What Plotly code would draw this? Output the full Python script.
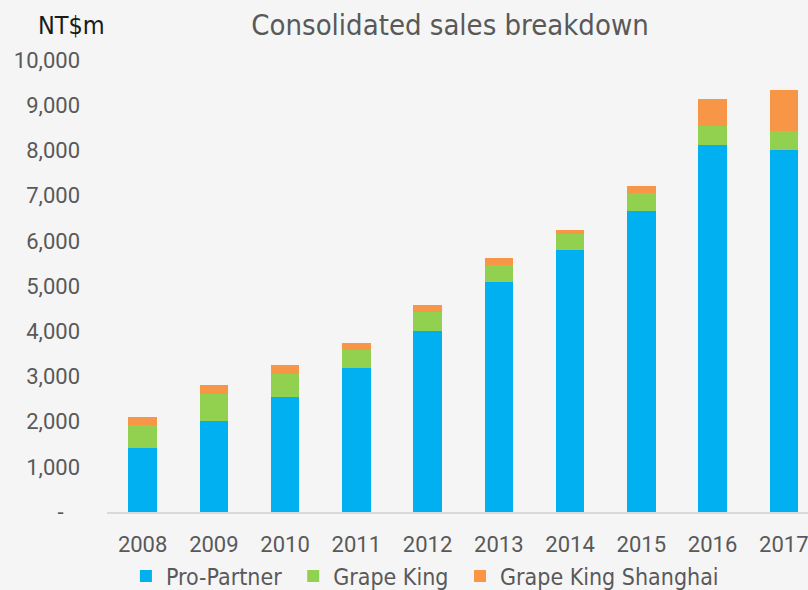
import plotly.graph_objects as go

years = ["2008", "2009", "2010", "2011", "2012", "2013", "2014", "2015", "2016", "2017"]
pro_partner = [1405, 2009, 2549, 3182, 4000, 5084, 5792, 6670, 8115, 8013]
grape_king = [509, 597, 508, 406, 429, 385, 363, 383, 429, 421]
grape_king_shanghai = [183, 199, 206, 162, 155, 146, 95, 155, 598, 907]
series_names = ["Pro-Partner", "Grape King", "Grape King Shanghai"]

y_tickvals = [0, 1000, 2000, 3000, 4000, 5000, 6000, 7000, 8000, 9000, 10000]
y_ticktext = ["-\u00a0\u00a0\u00a0", "1,000", "2,000", "3,000", "4,000", "5,000",
              "6,000", "7,000", "8,000", "9,000", "10,000"]

narrow = "DejaVu Sans Condensed, Liberation Sans Narrow, sans-serif"
tickfont = dict(family="Roboto, Open Sans, sans-serif", size=22, color="#595959")

fig = go.Figure()
colors = ["#00B0F0", "#92D050", "#F79646"]
pads = ["\u00a0", "\u00a0", ""]
for name, pad, vals, col in zip(series_names, pads,
                                [pro_partner, grape_king, grape_king_shanghai], colors):
    fig.add_trace(go.Bar(x=years, y=vals, name=name + pad,
                         marker=dict(color=col, line=dict(width=0))))

fig.update_layout(
    width=808, height=590,
    barmode="stack", bargap=0.6,
    paper_bgcolor="#f5f5f5", plot_bgcolor="#f5f5f5",
    margin=dict(l=107, r=0, t=60, b=78, autoexpand=False),
    title=dict(text="Consolidated sales breakdown", x=0.557, xanchor="center",
               y=0.958, yanchor="middle",
               font=dict(family=narrow, size=29, color="#595959")),
    showlegend=True,
    legend=dict(orientation="h", x=0.027, xanchor="left",
                y=-0.1416, yanchor="middle",
                font=dict(family=narrow, size=23, color="#595959"),
                bgcolor="rgba(0,0,0,0)", traceorder="normal"),
)
fig.add_annotation(text="NT$m", xref="paper", yref="paper", x=-0.05, y=1.076,
                   xanchor="center", yanchor="middle", showarrow=False,
                   font=dict(family=narrow, size=25, color="#1a1a1a"))
fig.update_xaxes(type="category", range=[-0.5, 9.34], showgrid=False, zeroline=False,
                 showline=True, linecolor="#d9d9d9", linewidth=2, ticks="",
                 tickfont=tickfont, ticklabelstandoff=12, automargin=False)
fig.update_yaxes(range=[0, 10000], tickvals=y_tickvals, ticktext=y_ticktext,
                 showgrid=False, zeroline=False, showline=False, ticks="",
                 tickfont=tickfont, ticklabelstandoff=26, automargin=False)

fig.write_html("out.html", config={"displayModeBar": False},
               post_script="document.body.style.margin='0';")
